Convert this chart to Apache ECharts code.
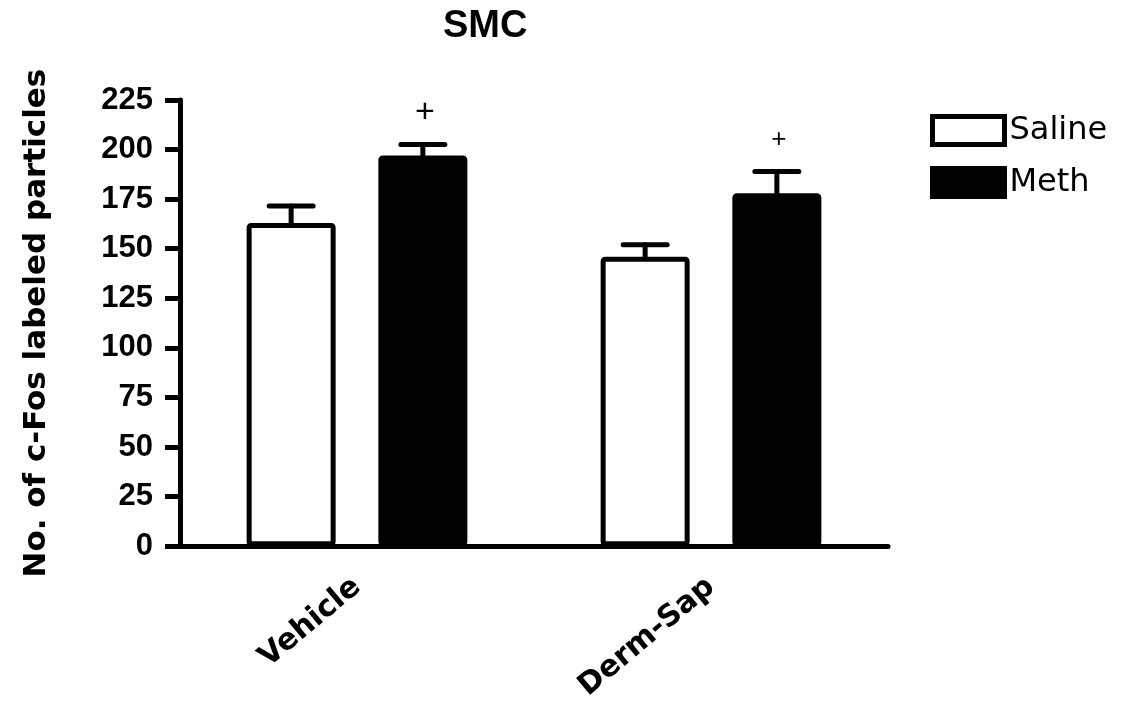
<!DOCTYPE html>
<html>
<head>
<meta charset="utf-8">
<script src="https://cdn.jsdelivr.net/npm/echarts@6/dist/echarts.min.js"></script>
<style>
  html, body { margin: 0; padding: 0; background: #fff; }
  #chart { width: 1128px; height: 704px; }
</style>
</head>
<body>
<div id="chart"></div>
<script>
// group labels on the x axis
const categories = ['Vehicle', 'Derm-Sap']
// mean and upper error (SEM)
const salineMean = [163, 146]
const salineSem = [8.5, 6]
const methMean = [197, 178]
const methSem = [5.5, 11]
// significance marks above the Meth bars
const methMarks = ['+', '+']

const BAR_W = 89
const BAR_GAP = 0.48
const HALF = BAR_W * (1 + BAR_GAP) / 2   // distance from category centre to bar centre

function errorBars(offset, withMarks) {
  return function (params, api) {
    const idx = api.value(0)
    const base = api.coord([idx, api.value(1)])
    const top = api.coord([idx, api.value(1) + api.value(2)])
    const x = base[0] + offset
    const line = { stroke: '#000', lineWidth: 5, lineCap: 'round' }
    const children = [
      { type: 'line', shape: { x1: x, y1: base[1], x2: x, y2: top[1] }, style: line },
      { type: 'line', shape: { x1: x - 22, y1: top[1], x2: x + 22, y2: top[1] }, style: line }
    ]
    if (withMarks && methMarks[idx]) {
      children.push({
        type: 'text',
        x: x + 2,
        y: top[1] - 32,
        style: {
          text: methMarks[idx],
          fontSize: idx === 0 ? 34 : 26,
          fontFamily: 'Liberation Sans, Arial',
          fill: '#000',
          align: 'center',
          verticalAlign: 'middle'
        }
      })
    }
    return { type: 'group', children: children }
  }
}

const chart = echarts.init(document.getElementById('chart'))
chart.setOption({
  animation: false,
  backgroundColor: '#fff',
  title: {
    text: 'SMC',
    left: 438,
    top: 3,
    textStyle: { fontFamily: 'Liberation Sans, Arial', fontSize: 38, fontWeight: 'bold', color: '#000' }
  },
  legend: {
    data: ['Saline', 'Meth'],
    orient: 'vertical',
    left: 925,
    top: 109,
    icon: 'rect',
    itemWidth: 72,
    itemHeight: 28,
    itemGap: 19,
    itemStyle: { borderWidth: 5, borderColor: '#000' },
    textStyle: { fontFamily: 'DejaVu Sans', fontSize: 32, color: '#000' }
  },
  grid: { left: 180, right: 240, top: 100, bottom: 157 },
  xAxis: {
    type: 'category',
    data: categories,
    axisLine: { lineStyle: { color: '#000', width: 5 } },
    axisTick: { alignWithLabel: true, length: 15, lineStyle: { color: '#000', width: 5 } },
    axisLabel: {
      interval: 0,
      rotate: 40,
      margin: 37,
      fontFamily: 'DejaVu Sans',
      fontWeight: 'bold',
      fontSize: 30,
      color: '#000'
    }
  },
  yAxis: {
    type: 'value',
    min: 0,
    max: 225,
    interval: 25,
    name: 'No. of c-Fos labeled particles',
    nameLocation: 'middle',
    nameGap: 128,
    nameTextStyle: { fontFamily: 'DejaVu Sans', fontWeight: 'bold', fontSize: 31, color: '#000' },
    axisLine: { show: true, lineStyle: { color: '#000', width: 5 } },
    axisTick: { show: true, length: 15, lineStyle: { color: '#000', width: 5 } },
    splitLine: { show: false },
    axisLabel: { margin: 27, fontFamily: 'Liberation Sans, Arial', fontWeight: 'bold', fontSize: 31, color: '#000' }
  },
  series: [
    {
      name: 'Saline',
      type: 'bar',
      data: salineMean,
      barWidth: BAR_W,
      barGap: (BAR_GAP * 100) + '%',
      itemStyle: { color: '#fff', borderColor: '#000', borderWidth: 5, borderRadius: 2 }
    },
    {
      name: 'Meth',
      type: 'bar',
      data: methMean,
      barWidth: BAR_W,
      barGap: (BAR_GAP * 100) + '%',
      itemStyle: { color: '#000', borderColor: '#000', borderWidth: 5, borderRadius: 2 }
    },
    {
      type: 'custom',
      renderItem: errorBars(-HALF, false),
      data: categories.map((c, i) => [i, salineMean[i], salineSem[i]]),
      encode: { x: 0, y: 1 },
      z: 5
    },
    {
      type: 'custom',
      renderItem: errorBars(HALF, true),
      data: categories.map((c, i) => [i, methMean[i], methSem[i]]),
      encode: { x: 0, y: 1 },
      z: 5
    }
  ]
})
</script>
</body>
</html>
